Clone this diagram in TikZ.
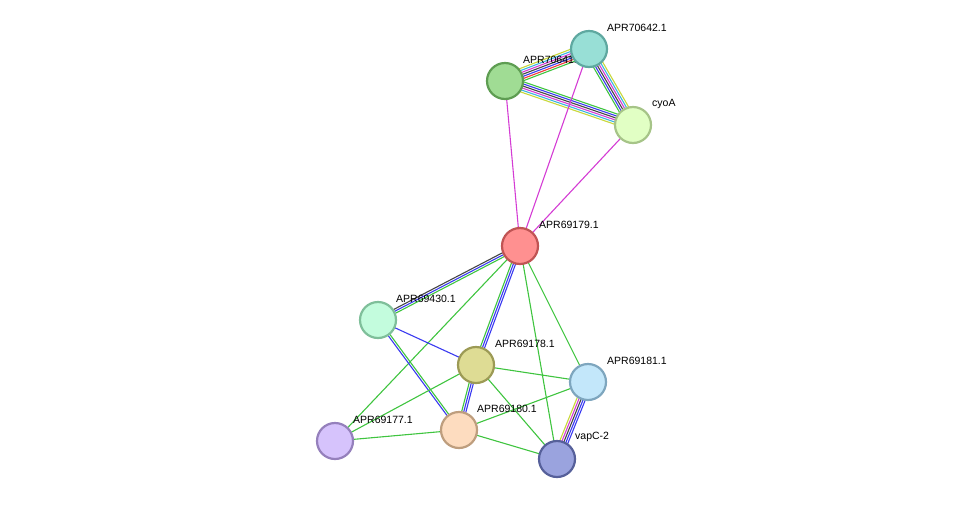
\documentclass[tikz,border=0pt]{standalone}
\usepackage{fontspec}
\setmainfont{Liberation Sans}
\usetikzlibrary{calc}

\definecolor{egreen}{HTML}{3FC43F}
\definecolor{ered}{HTML}{F03C3C}
\definecolor{eblue}{HTML}{3A3AF0}
\definecolor{eblack}{HTML}{444444}
\definecolor{emag}{HTML}{D43CD4}
\definecolor{ecyan}{HTML}{3CB4E0}
\definecolor{eyel}{HTML}{C8D83A}

% parallel coloured lines between two nodes
\newcommand\bundle[4]{%
  \foreach \c [count=\i] in {#4} {
    \pgfmathsetmacro\o{(\i-(#3+1)/2)*2.1}
    \draw[edge, \c] ($(#1)!\o pt!90:(#2)$) -- ($(#2)!\o pt!-90:(#1)$);
  }}

\begin{document}
\begin{tikzpicture}[x=1pt, y=-1pt,
    edge/.style={line width=1.1pt},
    prot/.style={circle, minimum size=36pt, inner sep=0pt, line width=2.2pt},
    lab/.style={anchor=west, inner sep=0pt, font=\fontsize{10.5}{12}\selectfont}]
    \useasboundingbox (0,0) rectangle (976,504);

    % positions
    \coordinate (c642) at (589,49);
    \coordinate (c641) at (505,81);
    \coordinate (cyo) at (633,125);
    \coordinate (c179) at (520,246);
    \coordinate (c430) at (378,320);
    \coordinate (c178) at (476,365);
    \coordinate (c181) at (588,382);
    \coordinate (c177) at (335,441);
    \coordinate (c180) at (459,430);
    \coordinate (cvap) at (557,459);

    % edges
    \bundle{c641}{c642}{7}{egreen,ered,eblue,eblack,emag,ecyan,eyel}
    \bundle{c641}{cyo}{6}{eyel,ecyan,emag,eblack,eblue,egreen}
    \bundle{c642}{cyo}{6}{egreen,eblue,eblack,emag,ecyan,eyel}
    \draw[edge, emag] (c641) -- (c179);
    \draw[edge, emag] (c642) -- (c179);
    \draw[edge, emag] (cyo) -- (c179);
    \bundle{c179}{c430}{3}{eblack,eblue,egreen}
    \bundle{c179}{c178}{3}{egreen,eblue,eblue}
    \bundle{c178}{c180}{3}{egreen,eblue,eblue}
    \draw[edge, egreen] (c179) -- (c177);
    \draw[edge, egreen] (c179) -- (cvap);
    \draw[edge, egreen] (c179) -- (c181);
    \draw[edge, eblue] (c430) -- (c178);
    \bundle{c430}{c180}{2}{eblue,egreen}
    \draw[edge, egreen] (c178) -- (c181);
    \draw[edge, egreen] (c178) -- (c177);
    \draw[edge, egreen] (c178) -- (cvap);
    \draw[edge, egreen] (c180) -- (c181);
    \draw[edge, egreen] (c180) -- (c177);
    \draw[edge, egreen] (c180) -- (cvap);
    \bundle{c181}{cvap}{5}{eyel,emag,eblack,eblue,eblue}

    % labels
    \node[lab] (l642) at ($(c642)+(18,-21)$) {APR70642.1};
    \node[lab] (l641) at ($(c641)+(18,-21)$) {APR70641.1};
    \node[lab] (lcyo) at ($(cyo)+(19,-21)$) {cyoA};
    \node[lab] (l179) at ($(c179)+(19,-21)$) {APR69179.1};
    \node[lab] (l430) at ($(c430)+(18,-21)$) {APR69430.1};
    \node[lab] (l178) at ($(c178)+(19,-21)$) {APR69178.1};
    \node[lab] (l181) at ($(c181)+(19,-21)$) {APR69181.1};
    \node[lab] (l177) at ($(c177)+(18,-21)$) {APR69177.1};
    \node[lab] (l180) at ($(c180)+(18,-21)$) {APR69180.1};
    \node[lab] (lvap) at ($(cvap)+(18,-22)$) {vapC-2};

    % proteins
    \node[prot, fill={rgb,255:red,152;green,223;blue,214}, draw={rgb,255:red,95;green,168;blue,160}] (p642) at (c642) {};
    \node[prot, fill={rgb,255:red,160;green,220;blue,148}, draw={rgb,255:red,94;green,157;blue,82}] (p641) at (c641) {};
    \node[prot, fill={rgb,255:red,225;green,255;blue,196}, draw={rgb,255:red,166;green,196;blue,136}] (pcyo) at (cyo) {};
    \node[prot, fill={rgb,255:red,255;green,144;blue,144}, draw={rgb,255:red,192;green,84;blue,84}] (p179) at (c179) {};
    \node[prot, fill={rgb,255:red,195;green,252;blue,221}, draw={rgb,255:red,127;green,191;blue,154}] (p430) at (c430) {};
    \node[prot, fill={rgb,255:red,222;green,220;blue,148}, draw={rgb,255:red,156;green,154;blue,85}] (p178) at (c178) {};
    \node[prot, fill={rgb,255:red,195;green,231;blue,250}, draw={rgb,255:red,126;green,166;blue,190}] (p181) at (c181) {};
    \node[prot, fill={rgb,255:red,214;green,195;blue,252}, draw={rgb,255:red,149;green,128;blue,188}] (p177) at (c177) {};
    \node[prot, fill={rgb,255:red,253;green,220;blue,191}, draw={rgb,255:red,190;green,158;blue,126}] (p180) at (c180) {};
    \node[prot, fill={rgb,255:red,154;green,163;blue,222}, draw={rgb,255:red,86;green,96;blue,154}] (pvap) at (cvap) {};
\end{tikzpicture}
\end{document}
